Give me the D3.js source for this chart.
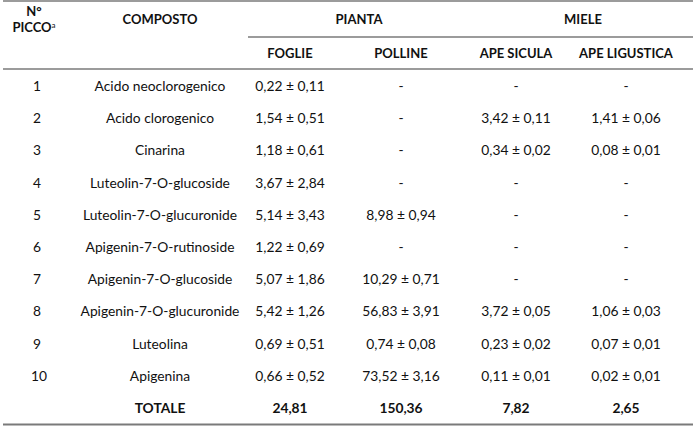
<!DOCTYPE html>
<html>
<head>
<meta charset="utf-8">
<script src="https://cdn.jsdelivr.net/npm/d3@7"></script>
<style>
  body { margin: 0; background: #fff; }
  svg text { font-family: Lato, "Noto Sans", sans-serif; fill: #111; }
</style>
</head>
<body>
<svg id="chart" width="698" height="426"></svg>
<script>
// table data
var picco = [1, 2, 3, 4, 5, 6, 7, 8, 9, 10];
var composto = ["Acido neoclorogenico", "Acido clorogenico", "Cinarina", "Luteolin-7-O-glucoside",
    "Luteolin-7-O-glucuronide", "Apigenin-7-O-rutinoside", "Apigenin-7-O-glucoside",
    "Apigenin-7-O-glucuronide", "Luteolina", "Apigenina"];
var foglie = [[0.22, 0.11], [1.54, 0.51], [1.18, 0.61], [3.67, 2.84], [5.14, 3.43],
    [1.22, 0.69], [5.07, 1.86], [5.42, 1.26], [0.69, 0.51], [0.66, 0.52]];
var polline = [null, null, null, null, [8.98, 0.94], null, [10.29, 0.71], [56.83, 3.91], [0.74, 0.08], [73.52, 3.16]];
var apeSicula = [null, [3.42, 0.11], [0.34, 0.02], null, null, null, null, [3.72, 0.05], [0.23, 0.02], [0.11, 0.01]];
var apeLigustica = [null, [1.41, 0.06], [0.08, 0.01], null, null, null, null, [1.06, 0.03], [0.07, 0.01], [0.02, 0.01]];
var totali = [24.81, 150.36, 7.82, 2.65];
var subHeaders = ["FOGLIE", "POLLINE", "APE SICULA", "APE LIGUSTICA"];

var svg = d3.select("#chart");
var fmt = d3.formatLocale({decimal: ",", thousands: ".", grouping: [3], currency: ["", ""]}).format(".2f");
function cell(v) { return v ? fmt(v[0]) + " ± " + fmt(v[1]) : "-"; }

var colX = d3.scaleOrdinal()
    .domain(["num", "comp", "foglie", "polline", "sicula", "ligustica"])
    .range([37, 160, 290, 401, 516, 626]);
var rowY = d3.scaleLinear().domain([0, 10]).range([86, 408]);

var lineColor = "#7a7a7a";
function hline(x1, x2, y, w) {
    svg.append("line").attr("x1", x1).attr("x2", x2).attr("y1", y).attr("y2", y)
        .attr("stroke", lineColor).attr("stroke-width", w);
}
hline(3, 693, 1, 1.5);
hline(248, 693, 37, 1.5);
hline(3, 693, 69, 1.5);
hline(3, 693, 424.5, 2);

// header
var h = svg.append("g").style("font-weight", "bold").style("font-size", "13px").attr("text-anchor", "middle");
h.append("text").attr("x", 34).attr("y", 16).text("N°");
var pt = h.append("text").attr("x", 34).attr("y", 32);
pt.append("tspan").text("PICCO");
pt.append("tspan").attr("dy", -4).style("font-size", "8px").style("font-weight", "normal").text("a");
h.append("text").attr("x", colX("comp")).attr("y", 24).text("COMPOSTO");
h.append("text").attr("x", 359).attr("y", 24).text("PIANTA");
h.append("text").attr("x", 583).attr("y", 24).text("MIELE");
h.selectAll(".sub").data(subHeaders).enter().append("text")
    .attr("class", "sub")
    .attr("x", (d, i) => colX.range()[i + 2])
    .attr("y", 58)
    .text(d => d);

// body rows
var rows = picco.map((p, i) => ({
    num: p, comp: composto[i], foglie: cell(foglie[i]), polline: cell(polline[i]),
    sicula: cell(apeSicula[i]), ligustica: cell(apeLigustica[i])
}));
var keys = colX.domain();
var g = svg.append("g").style("font-size", "13.8px").attr("text-anchor", "middle");
rows.forEach(function(r, i) {
    g.selectAll(null).data(keys).enter().append("text")
        .attr("x", k => colX(k) + (k === "num" && r.num >= 10 ? 2 : 0))
        .attr("y", rowY(i) + 5)
        .text(k => r[k]);
});

// totals
var t = svg.append("g").style("font-size", "13.8px").style("font-weight", "bold").attr("text-anchor", "middle");
t.append("text").attr("x", colX("comp")).attr("y", rowY(10) + 5).text("TOTALE");
t.selectAll(".tot").data(totali).enter().append("text")
    .attr("x", (d, i) => colX.range()[i + 2])
    .attr("y", rowY(10) + 5)
    .text(d => fmt(d));
</script>
</body>
</html>
